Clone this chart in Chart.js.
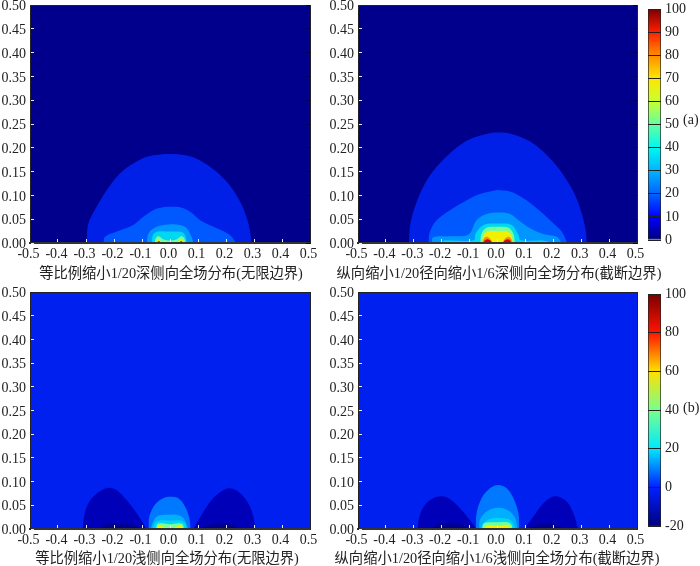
<!DOCTYPE html>
<html>
<head>
<meta charset="utf-8">
<title>全场分布</title>
<script src="https://cdn.jsdelivr.net/npm/chart.js@4"></script>
<style>
  html, body { margin: 0; background: #fff; }
  #page { position: relative; width: 700px; height: 566px; overflow: hidden; }
  canvas { position: absolute; }
  .tag { position: absolute; left: 683px; font: 14px "Liberation Serif"; color: #222; line-height: 16px; }
  .cap { position: absolute; transform: translateX(-50%); white-space: nowrap; color: #222; font: 14.3px/16px "Liberation Serif", "Noto Sans CJK SC", serif; }
</style>
</head>
<body>
<div id="page">
  <canvas id="panelA1" width="325" height="285" style="left:0;top:0"></canvas>
  <canvas id="panelA2" width="340" height="285" style="left:328px;top:0"></canvas>
  <canvas id="panelB1" width="325" height="281" style="left:0;top:285px"></canvas>
  <canvas id="panelB2" width="340" height="281" style="left:328px;top:285px"></canvas>
  <canvas id="barA" width="52" height="250" style="left:648px;top:0"></canvas>
  <canvas id="barB" width="52" height="250" style="left:648px;top:285px"></canvas>
  <div class="tag" style="top:112px">(a)</div>
  <div class="tag" style="top:400px">(b)</div>
  <div class="cap" id="capA1" style="left:171px;top:265px"></div>
  <div class="cap" id="capA2" style="left:499px;top:265px"></div>
  <div class="cap" id="capB1" style="left:167px;top:550px"></div>
  <div class="cap" id="capB2" style="left:497px;top:550px"></div>
</div>
<script>
const xTicks = [-0.5, -0.4, -0.3, -0.2, -0.1, 0, 0.1, 0.2, 0.3, 0.4, 0.5];
const yTicks = [0, 0.05, 0.1, 0.15, 0.2, 0.25, 0.3, 0.35, 0.4, 0.45, 0.5];
const barATicks = [0, 10, 20, 30, 40, 50, 60, 70, 80, 90, 100];
const barBTicks = [-20, 0, 20, 40, 60, 80, 100];

const titleA1 = "等比例缩小1/20深侧向全场分布(无限边界)";
const titleA2 = "纵向缩小1/20径向缩小1/6深侧向全场分布(截断边界)";
const titleB1 = "等比例缩小1/20浅侧向全场分布(无限边界)";
const titleB2 = "纵向缩小1/20径向缩小1/6浅侧向全场分布(截断边界)";

// whole plot range, painted first as the lowest band
const fullRange = [[-0.5, 0.5], [0.5, 0.5]];

// contours, [x, y]
const a1Blue = [[-0.298, 0], [-0.292, 0.04], [-0.262, 0.076], [-0.226, 0.111], [-0.179, 0.146], [-0.131, 0.167], [-0.083, 0.181], [-0.036, 0.186], [0, 0.187], [0.036, 0.186], [0.083, 0.18], [0.143, 0.16], [0.202, 0.129], [0.25, 0.087], [0.28, 0.041], [0.292, 0]];
const a1Azure = [[-0.238, 0], [-0.232, 0.013], [-0.19, 0.024], [-0.131, 0.038], [-0.095, 0.055], [-0.06, 0.069], [-0.024, 0.075], [0, 0.076], [0.036, 0.075], [0.071, 0.066], [0.107, 0.048], [0.167, 0.031], [0.214, 0.017], [0.236, 0]];
const a1Sky = [[-0.083, 0], [-0.077, 0.02], [-0.048, 0.034], [-0.006, 0.039], [0.036, 0.038], [0.06, 0.031], [0.077, 0.013], [0.083, 0]];
const a1Cyan = [[-0.065, 0], [-0.06, 0.018], [-0.04, 0.024], [0, 0.024], [0.03, 0.024], [0.05, 0.02], [0.062, 0]];
const a1Green = [[-0.055, 0], [-0.05, 0.011], [-0.04, 0.014], [-0.025, 0.008], [0, 0.005], [0.025, 0.008], [0.04, 0.014], [0.05, 0.011], [0.056, 0]];
const a1YellowL = [[-0.05, 0], [-0.043, 0.009], [-0.03, 0]];
const a1YellowR = [[0.03, 0], [0.04, 0.009], [0.05, 0]];
const a1RedL = [[-0.047, 0], [-0.04, 0.004], [-0.032, 0]];
const a1RedR = [[0.032, 0], [0.04, 0.004], [0.047, 0]];

const a2Blue = [[-0.317, 0], [-0.314, 0.034], [-0.296, 0.076], [-0.26, 0.125], [-0.218, 0.16], [-0.158, 0.195], [-0.099, 0.218], [-0.039, 0.229], [0.003, 0.232], [0.051, 0.229], [0.117, 0.213], [0.176, 0.185], [0.224, 0.153], [0.272, 0.108], [0.302, 0.062], [0.318, 0.02], [0.32, 0]];
const a2Azure = [[-0.248, 0], [-0.242, 0.024], [-0.218, 0.048], [-0.17, 0.069], [-0.11, 0.09], [-0.063, 0.103], [-0.015, 0.11], [0.009, 0.111], [0.045, 0.108], [0.093, 0.094], [0.14, 0.073], [0.188, 0.048], [0.23, 0.024], [0.25, 0]];
const a2Sky = [[-0.236, 0], [-0.23, 0.012], [-0.17, 0.014], [-0.104, 0.018], [-0.075, 0.048], [-0.039, 0.061], [0.003, 0.064], [0.045, 0.061], [0.081, 0.045], [0.117, 0.031], [0.164, 0.019], [0.212, 0.013], [0.23, 0]];
const a2Cyan = [[-0.2, 0], [-0.19, 0.005], [-0.085, 0.006], [-0.078, 0.02], [-0.05, 0.038], [0.003, 0.041], [0.05, 0.038], [0.075, 0.017], [0.083, 0.006], [0.16, 0.005], [0.2, 0]];
const a2Green = [[-0.062, 0], [-0.058, 0.018], [-0.04, 0.032], [0, 0.034], [0.04, 0.032], [0.058, 0.018], [0.062, 0]];
const a2Yellow = [[-0.055, 0], [-0.05, 0.015], [-0.035, 0.024], [0, 0.025], [0.035, 0.024], [0.05, 0.015], [0.055, 0]];
const a2OrangeL = [[-0.055, 0], [-0.05, 0.008], [-0.04, 0.013], [-0.028, 0.01], [-0.018, 0]];
const a2OrangeR = [[0.018, 0], [0.028, 0.01], [0.04, 0.013], [0.05, 0.008], [0.055, 0]];
const a2RedL = [[-0.05, 0], [-0.045, 0.006], [-0.035, 0.008], [-0.025, 0.005], [-0.02, 0]];
const a2RedR = [[0.02, 0], [0.025, 0.005], [0.035, 0.008], [0.045, 0.006], [0.05, 0]];

const b1DarkL = [[-0.312, 0], [-0.307, 0.026], [-0.292, 0.054], [-0.262, 0.075], [-0.22, 0.087], [-0.19, 0.082], [-0.155, 0.061], [-0.119, 0.033], [-0.089, 0.005], [-0.086, 0]];
const b1DarkR = [[0.083, 0], [0.095, 0.012], [0.131, 0.047], [0.167, 0.072], [0.208, 0.086], [0.244, 0.079], [0.28, 0.054], [0.298, 0.026], [0.304, 0]];
const b1NavyL = [[-0.244, 0], [-0.232, 0.01], [-0.19, 0.012], [-0.131, 0.008], [-0.101, 0]];
const b1NavyR = [[0.095, 0], [0.143, 0.008], [0.19, 0.012], [0.232, 0.008], [0.244, 0]];
const b1Azure = [[-0.077, 0], [-0.074, 0.026], [-0.054, 0.051], [-0.024, 0.065], [0, 0.068], [0.03, 0.065], [0.054, 0.047], [0.069, 0.023], [0.074, 0]];
const b1Sky = [[-0.069, 0], [-0.06, 0.016], [-0.048, 0.026], [-0.024, 0.03], [0, 0.03], [0.024, 0.03], [0.048, 0.023], [0.06, 0.008], [0.065, 0]];
const b1Cyan = [[-0.062, 0], [-0.054, 0.012], [-0.036, 0.018], [0, 0.018], [0.036, 0.018], [0.054, 0.012], [0.06, 0]];
const b1Green = [[-0.05, 0], [-0.045, 0.01], [-0.03, 0.012], [0, 0.01], [0.03, 0.012], [0.045, 0.01], [0.05, 0]];
const b1YellowL = [[-0.05, 0], [-0.04, 0.007], [-0.02, 0.004], [0, 0]];
const b1YellowR = [[0, 0], [0.02, 0.004], [0.04, 0.007], [0.05, 0]];

const b2DarkL = [[-0.287, 0], [-0.28, 0.026], [-0.26, 0.051], [-0.23, 0.065], [-0.2, 0.069], [-0.17, 0.063], [-0.134, 0.044], [-0.099, 0.019], [-0.075, 0]];
const b2DarkR = [[0.095, 0], [0.128, 0.026], [0.164, 0.054], [0.206, 0.069], [0.248, 0.058], [0.272, 0.033], [0.29, 0]];
const b2NavyL = [[-0.236, 0], [-0.218, 0.009], [-0.17, 0.012], [-0.122, 0.008], [-0.099, 0]];
const b2NavyR = [[0.105, 0], [0.14, 0.008], [0.182, 0.012], [0.224, 0.005], [0.242, 0]];
const b2Azure = [[-0.078, 0], [-0.075, 0.033], [-0.057, 0.065], [-0.027, 0.086], [0.003, 0.093], [0.033, 0.086], [0.057, 0.065], [0.075, 0.033], [0.078, 0]];
const b2Sky = [[-0.066, 0], [-0.063, 0.019], [-0.039, 0.037], [0.003, 0.045], [0.039, 0.039], [0.063, 0.023], [0.072, 0]];
const b2Cyan = [[-0.06, 0], [-0.051, 0.012], [-0.027, 0.021], [0.009, 0.023], [0.045, 0.019], [0.059, 0.008], [0.063, 0]];
const b2Green = [[-0.055, 0], [-0.05, 0.011], [-0.03, 0.014], [0, 0.014], [0.035, 0.014], [0.05, 0.009], [0.052, 0]];
const b2Yellow = [[-0.048, 0], [-0.04, 0.008], [-0.01, 0.007], [0.01, 0.007], [0.04, 0.008], [0.048, 0]];

const FONT = '"Liberation Serif", "Noto Sans CJK SC", serif';
Chart.defaults.font.family = FONT;
Chart.defaults.font.size = 14;
Chart.defaults.color = "#222";
Chart.defaults.animation = false;

// keep the plot area where the padding puts it, labels may overhang
function noLabelPadding(ax) {
  ax.paddingTop = ax.paddingBottom = ax.paddingLeft = ax.paddingRight = 0;
}

function band(points, color, order) {
  return {
    data: points.map(([x, y]) => ({ x, y })),
    order,
    showLine: true,
    tension: 0.35,
    pointRadius: 0,
    borderWidth: 0,
    backgroundColor: color,
    fill: "origin"
  };
}

function frameAxis(position, min, max, ticks, tickColor) {
  return {
    position, min, max,
    grid: { display: !!tickColor, color: tickColor, drawOnChartArea: false, tickLength: -4, z: 1 },
    border: { color: "#222", width: 1, z: 1 },
    ticks: { display: false },
    afterBuildTicks: (ax) => { ax.ticks = ticks.map((value) => ({ value })); },
    afterFit: (ax) => {
      if (position === "top") ax.height = 0; else ax.width = 0;
      noLabelPadding(ax);
    }
  };
}

function panel(id, bands, padding, axisHeight, rightTickColor) {
  new Chart(document.getElementById(id), {
    type: "scatter",
    data: { datasets: bands.map(([pts, color], i) => band(pts, color, bands.length - i)) },
    options: {
      responsive: false,
      layout: { padding },
      plugins: { legend: { display: false }, tooltip: { enabled: false } },
      scales: {
        x: {
          type: "linear", min: -0.5, max: 0.5,
          grid: { color: "#e8e8e8", drawOnChartArea: false, tickLength: -4, z: 1 },
          border: { color: "#333", width: 2, z: 1 },
          ticks: { padding: 7, maxRotation: 0, labelOffset: -1.5, autoSkip: false, callback: (v) => v.toFixed(1) },
          afterBuildTicks: (ax) => { ax.ticks = xTicks.map((value) => ({ value })); },
          afterFit: (ax) => { ax.height = axisHeight; noLabelPadding(ax); }
        },
        y: {
          type: "linear", min: 0, max: 0.5,
          grid: { color: "#e8e8e8", drawOnChartArea: false, tickLength: -4, z: 1 },
          border: { color: "#222", width: 1, z: 1 },
          ticks: { padding: 8, labelOffset: 1.5, autoSkip: false, callback: (v) => v.toFixed(2) },
          afterBuildTicks: (ax) => { ax.ticks = yTicks.map((value) => ({ value })); },
          afterFit: (ax) => { ax.width = 30; noLabelPadding(ax); }
        },
        top: frameAxis("top", -0.5, 0.5, xTicks, null),
        right: frameAxis("right", 0, 0.5, yTicks, rightTickColor)
      }
    }
  });
}

const navy = "#00008c", blue = "#0020e8", azure = "#0058ff", sky = "#0096ff", cyan = "#00d8f0";
const green = "#78ff96", yellow = "#f0f000", orange = "#ff8c00", red = "#e00000";
const lowBlue = "#0020f0", dark = "#0000b8", darker = "#000090", bAzure = "#0078ff", bSky = "#00b0ff";

panel("panelA1", [
  [fullRange, navy], [a1Blue, blue], [a1Azure, azure], [a1Sky, sky], [a1Cyan, cyan], [a1Green, green],
  [a1YellowL, yellow], [a1YellowR, yellow], [a1RedL, red], [a1RedR, red]
], { top: 5, right: 15, bottom: 0, left: 0 }, 42, "#000050");
panel("panelA2", [
  [fullRange, navy], [a2Blue, blue], [a2Azure, azure], [a2Sky, sky], [a2Cyan, cyan], [a2Green, green], [a2Yellow, yellow],
  [a2OrangeL, orange], [a2OrangeR, orange], [a2RedL, red], [a2RedR, red]
], { top: 5, right: 31, bottom: 0, left: 0 }, 42, "#000050");
panel("panelB1", [
  [fullRange, lowBlue], [b1DarkL, dark], [b1DarkR, dark], [b1NavyL, darker], [b1NavyR, darker],
  [b1Azure, bAzure], [b1Sky, bSky], [b1Cyan, cyan], [b1Green, green], [b1YellowL, yellow], [b1YellowR, yellow]
], { top: 7, right: 15, bottom: 0, left: 0 }, 37, null);
panel("panelB2", [
  [fullRange, lowBlue], [b2DarkL, dark], [b2DarkR, dark], [b2NavyL, darker], [b2NavyR, darker],
  [b2Azure, bAzure], [b2Sky, bSky], [b2Cyan, cyan], [b2Green, green], [b2Yellow, yellow]
], { top: 7, right: 31, bottom: 0, left: 0 }, 37, null);

document.getElementById("capA1").textContent = titleA1;
document.getElementById("capA2").textContent = titleA2;
document.getElementById("capB1").textContent = titleB1;
document.getElementById("capB2").textContent = titleB2;

const barAColors = ["#00007f", "#0000ff", "#0064ff", "#00b4ff", "#00f8f0", "#64ffa0", "#c8ff32", "#ffe600", "#ff8c00", "#ff1e00", "#780000"];
const barBColors = ["#00007f", "#0020ff", "#00e8ff", "#78ff8c", "#ffe000", "#ff1400", "#780000"];

function colorbar(id, ticks, colors, padding) {
  const lo = ticks[0], hi = ticks[ticks.length - 1];
  new Chart(document.getElementById(id), {
    type: "bar",
    data: {
      labels: [""],
      datasets: [{
        data: [[lo, hi]],
        barPercentage: 1,
        categoryPercentage: 1,
        borderWidth: 1,
        borderColor: "#222",
        borderSkipped: false,
        backgroundColor: (ctx) => {
          const { chartArea, ctx: c } = ctx.chart;
          if (!chartArea) return colors[0];
          const g = c.createLinearGradient(0, chartArea.bottom, 0, chartArea.top);
          colors.forEach((col, i) => g.addColorStop(i / (colors.length - 1), col));
          return g;
        }
      }]
    },
    options: {
      responsive: false,
      layout: { padding },
      plugins: { legend: { display: false }, tooltip: { enabled: false } },
      scales: {
        x: { display: false },
        y: {
          position: "right", min: lo, max: hi,
          grid: { color: "#222", drawTicks: false, z: 1 },
          border: { display: false },
          ticks: { padding: 4, crossAlign: "near", autoSkip: false },
          afterBuildTicks: (ax) => { ax.ticks = ticks.map((value) => ({ value })); },
          afterFit: (ax) => { ax.width = 39; noLabelPadding(ax); }
        }
      }
    }
  });
}

colorbar("barA", barATicks, barAColors, { top: 9, bottom: 10, left: 0, right: 0 });
colorbar("barB", barBTicks, barBColors, { top: 9, bottom: 9, left: 0, right: 0 });
</script>
</body>
</html>
